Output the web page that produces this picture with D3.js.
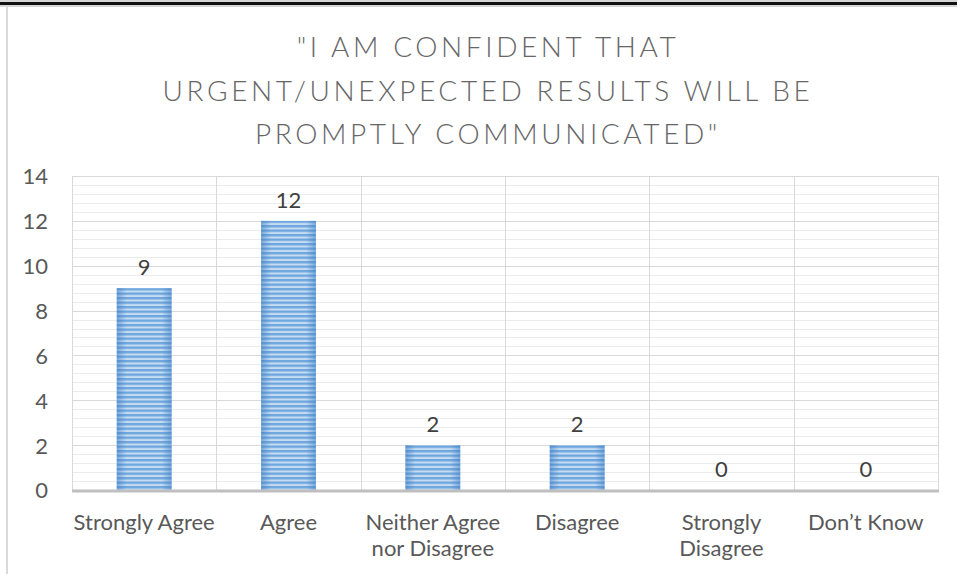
<!DOCTYPE html>
<html><head><meta charset="utf-8">
<script src="https://cdn.jsdelivr.net/npm/d3@7"></script>
<style>html,body{margin:0;padding:0;background:#fff;}svg{display:block;}</style>
</head><body>
<svg id="c" width="957" height="574"></svg>
<script>
const categories = [["Strongly Agree"], ["Agree"], ["Neither Agree", "nor Disagree"], ["Disagree"], ["Strongly", "Disagree"], ["Don\u2019t Know"]];
const values = [9, 12, 2, 2, 0, 0];
const yTicks = [0, 2, 4, 6, 8, 10, 12, 14];
const titleLines = ["\"I AM CONFIDENT THAT", "URGENT/UNEXPECTED RESULTS WILL BE", "PROMPTLY COMMUNICATED\""];

const svg = d3.select("#c");
const font = "Lato, 'Open Sans', sans-serif";
const W = 957, H = 574;
const plot = {left: 72, right: 938, top: 176, bottom: 490};

// frame
svg.append("rect").attr("x",0).attr("y",0).attr("width",W).attr("height",7).attr("fill","#d6d6d6");
svg.append("rect").attr("x",0).attr("y",2).attr("width",W).attr("height",3).attr("fill","#111");
svg.append("rect").attr("x",6).attr("y",7).attr("width",2).attr("height",H-7).attr("fill","#d9d9d9");

const defs = svg.append("defs");
const pat = defs.append("pattern").attr("id","stripes").attr("patternUnits","userSpaceOnUse")
  .attr("width",10).attr("height",4.5);
pat.append("rect").attr("width",10).attr("height",4.5).attr("fill","#c6dcf2");
pat.append("rect").attr("width",10).attr("height",2.4).attr("fill","#6ea6de");
const grad = defs.append("linearGradient").attr("id","edge").attr("x1","0").attr("x2","1").attr("y1","0").attr("y2","0");
grad.append("stop").attr("offset","0").attr("stop-color","#3f7fc4").attr("stop-opacity",0.55);
grad.append("stop").attr("offset","0.18").attr("stop-color","#3f7fc4").attr("stop-opacity",0);
grad.append("stop").attr("offset","0.82").attr("stop-color","#3f7fc4").attr("stop-opacity",0);
grad.append("stop").attr("offset","1").attr("stop-color","#3f7fc4").attr("stop-opacity",0.55);

const x = d3.scaleBand().domain(d3.range(categories.length)).range([plot.left, plot.right]).paddingInner(0).paddingOuter(0);
const y = d3.scaleLinear().domain([0, 14]).range([plot.bottom, plot.top]);

// minor gridlines
const minor = d3.range(0, 14.0001, 0.4).filter(v => Math.abs(v/2 - Math.round(v/2)) > 1e-6);
svg.append("g").selectAll("line").data(minor).join("line")
  .attr("x1",plot.left).attr("x2",plot.right)
  .attr("y1",d=>Math.round(y(d))+0.5).attr("y2",d=>Math.round(y(d))+0.5)
  .attr("stroke","#ececec").attr("stroke-width",1);
// major gridlines
svg.append("g").selectAll("line").data(yTicks.filter(d=>d>0)).join("line")
  .attr("x1",plot.left).attr("x2",plot.right)
  .attr("y1",d=>Math.round(y(d))+0.5).attr("y2",d=>Math.round(y(d))+0.5)
  .attr("stroke","#d9d9d9").attr("stroke-width",1);
// vertical gridlines
const vlines = d3.range(categories.length+1).map(i => plot.left + i*x.bandwidth());
svg.append("g").selectAll("line").data(vlines).join("line")
  .attr("x1",d=>Math.round(d)+0.5).attr("x2",d=>Math.round(d)+0.5)
  .attr("y1",plot.top).attr("y2",plot.bottom)
  .attr("stroke","#d9d9d9").attr("stroke-width",1);

// bars
const bw = x.bandwidth()*0.38;
const bars = svg.append("g");
bars.selectAll("rect.b").data(values).join("rect").attr("class","b")
  .attr("x",(d,i)=>x(i)+x.bandwidth()/2-bw/2).attr("width",bw)
  .attr("y",d=>y(d)).attr("height",d=>y(0)-y(d)).attr("fill","url(#stripes)");
bars.selectAll("rect.e").data(values).join("rect").attr("class","e")
  .attr("x",(d,i)=>x(i)+x.bandwidth()/2-bw/2).attr("width",bw)
  .attr("y",d=>y(d)).attr("height",d=>y(0)-y(d)).attr("fill","url(#edge)");

// axis line
svg.append("line").attr("x1",plot.left).attr("x2",plot.right+1)
  .attr("y1",y(0)+1).attr("y2",y(0)+1).attr("stroke","#bfbfbf").attr("stroke-width",3);

// y axis labels
const yAxis = d3.axisLeft(y).tickValues(yTicks).tickSize(0).tickPadding(0);
const gy = svg.append("g").attr("transform",`translate(48,0)`).call(yAxis);
gy.select(".domain").remove();
gy.selectAll("text").attr("font-family",font).attr("font-size",22).attr("fill","#595959").attr("dy","0.36em");

// data labels
svg.append("g").selectAll("text").data(values).join("text")
  .attr("x",(d,i)=>x(i)+x.bandwidth()/2).attr("y",d=>y(d)-13)
  .attr("text-anchor","middle").attr("font-family",font).attr("font-size",22).attr("fill","#404040")
  .text(d=>d);

// category labels
const cl = svg.append("g").selectAll("text").data(categories).join("text")
  .attr("x",(d,i)=>x(i)+x.bandwidth()/2).attr("y",530)
  .attr("text-anchor","middle").attr("font-family",font).attr("font-size",22).attr("fill","#595959");
cl.selectAll("tspan").data(d=>d).join("tspan")
  .attr("x",function(){return this.parentNode.getAttribute("x");})
  .attr("dy",(d,i)=>i===0?0:26).text(d=>d);

// title
svg.append("g").selectAll("text").data(titleLines).join("text")
  .attr("x",488).attr("y",(d,i)=>57+i*43.5)
  .attr("text-anchor","middle").attr("font-family",font).attr("font-weight",300)
  .attr("font-size",28).attr("letter-spacing",3.6).attr("fill","#666").text(d=>d);
</script>
</body></html>
